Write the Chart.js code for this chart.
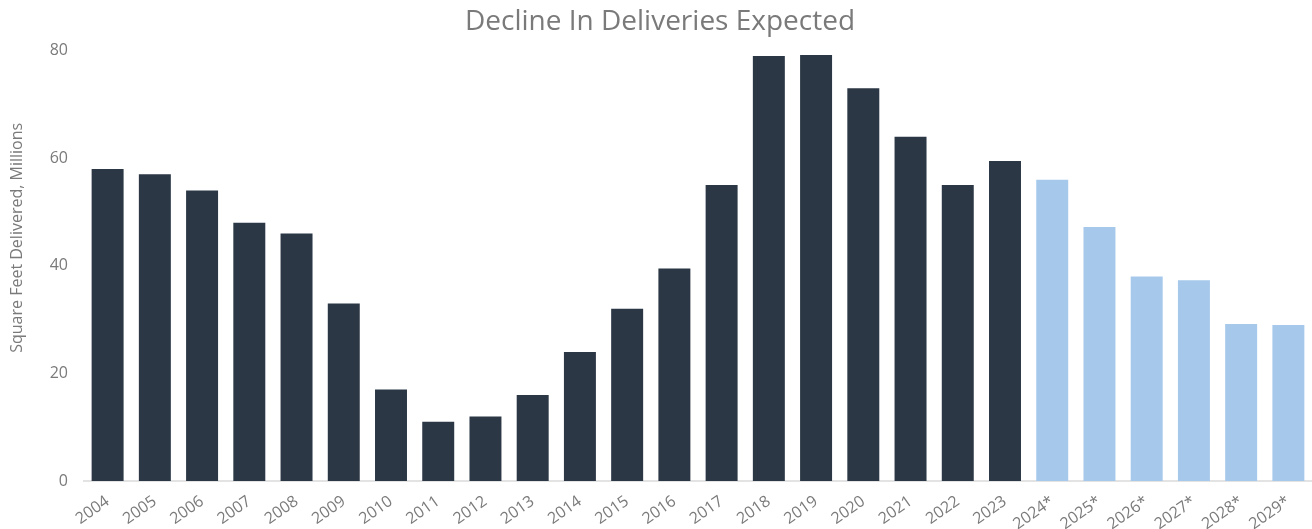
<!DOCTYPE html>
<html>
<head>
<meta charset="utf-8">
<script src="https://cdn.jsdelivr.net/npm/chart.js@4"></script>
<style>
  html, body { margin: 0; padding: 0; background: #fff; }
  #wrap { width: 1312px; height: 529px; }
</style>
</head>
<body>
<div id="wrap"><canvas id="myChart" width="1312" height="529"></canvas></div>
<script>
// Années et livraisons (millions de pieds carrés)
const years = ["2004", "2005", "2006", "2007", "2008", "2009", "2010", "2011", "2012", "2013",
    "2014", "2015", "2016", "2017", "2018", "2019", "2020", "2021", "2022", "2023",
    "2024*", "2025*", "2026*", "2027*", "2028*", "2029*"];
const deliveries = [58, 57, 54, 48, 46, 33, 17, 11, 12, 16,
    24, 32, 39.5, 55, 79, 79.2, 73, 64, 55, 59.5,
    56, 47.2, 38, 37.3, 29.2, 29];
const forecastFrom = 20; // index of first forecast year
const yTicks = [0, 20, 40, 60, 80];

const darkBar = '#2b3745';
const lightBar = '#a6c9eb';
const textGrey = '#7a7a7a';

let barColors = deliveries.map((v, i) => i >= forecastFrom ? lightBar : darkBar);

// Titre de l'axe y, un peu au-dessus du centre comme dans l'original
const yTitlePlugin = {
    id: 'yTitle',
    afterDraw(chart) {
        const c = chart.ctx;
        const area = chart.chartArea;
        c.save();
        c.translate(17, area.top + (area.bottom - area.top) * 0.435);
        c.rotate(-Math.PI / 2);
        c.fillStyle = textGrey;
        c.font = '16px "Open Sans"';
        c.textAlign = 'center';
        c.textBaseline = 'middle';
        c.fillText('Square Feet Delivered, Millions', 0, 0);
        c.restore();
    }
};

let ctx = document.getElementById('myChart').getContext('2d');
let myChart = new Chart(ctx, {
    type: 'bar',
    data: {
        labels: years,
        datasets: [{
            data: deliveries,
            backgroundColor: barColors,
            borderWidth: 0,
            barPercentage: 0.677,
            categoryPercentage: 1.0
        }]
    },
    plugins: [yTitlePlugin],
    options: {
        responsive: false,
        animation: false,
        layout: {
            padding: { left: 8, right: 0, top: 0, bottom: 0 }
        },
        plugins: {
            legend: { display: false },
            tooltip: { enabled: false },
            title: {
                display: true,
                text: 'Decline In Deliveries Expected',
                color: textGrey,
                font: { size: 28, family: 'Open Sans', weight: 'normal' },
                padding: { top: 5, bottom: 12 }
            }
        },
        scales: {
            x: {
                grid: { display: false },
                border: { display: true, color: '#e3e3e3', width: 2 },
                afterFit: axis => { axis.height = 48; },
                ticks: {
                    color: textGrey,
                    font: { size: 16, family: 'Open Sans' },
                    minRotation: 35,
                    maxRotation: 35,
                    padding: 3
                }
            },
            y: {
                min: 0,
                max: 80,
                afterBuildTicks: axis => { axis.ticks = yTicks.map(v => ({ value: v })); },
                afterFit: axis => { axis.width = 76; },
                grid: { display: false },
                border: { display: false },
                ticks: {
                    color: textGrey,
                    font: { size: 16, family: 'Open Sans' },
                    padding: 8
                }
            }
        }
    }
});
</script>
</body>
</html>
